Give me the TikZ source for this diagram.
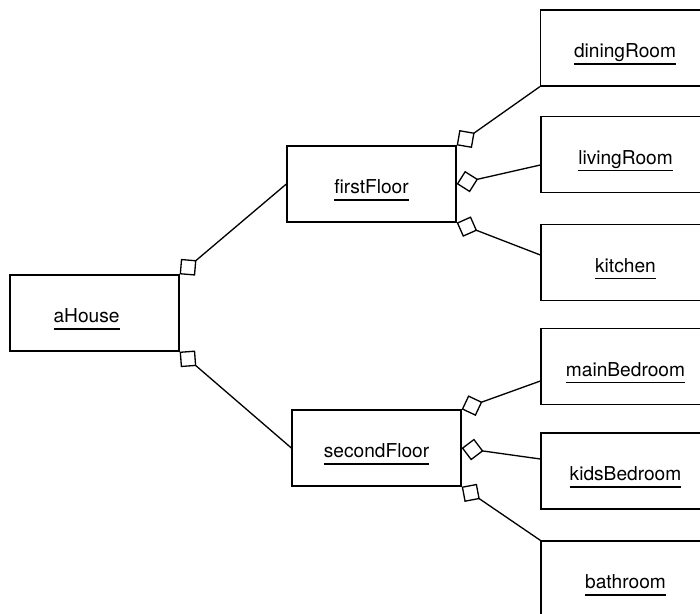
\documentclass[tikz,border=0pt]{standalone}
\usepackage{fontspec}
\setmainfont{TeX Gyre Heros}
\usepackage{tikz}
\usetikzlibrary{arrows.meta}
\newlength{\objwd}
\newcommand{\objname}[1]{\settowidth{\objwd}{#1}#1\llap{\rule[-4pt]{\objwd}{0.7pt}}}
\tikzset{
  obj/.style={draw, line width=0.75pt, rectangle, minimum width=3.38cm, minimum height=1.52cm,
    text height=15pt, text depth=4pt, font=\fontsize{10.9}{13}\selectfont},
  aggr/.style={line width=0.75pt, arrows={Diamond[open,length=0.44cm,width=0.44cm]-}}
}

\begin{document}
\begin{tikzpicture}[x=0.02cm,y=-0.02cm]
\clip (0,0) rectangle (700,613);
\node[obj] (aHouse) at (94.5,313) {\objname{aHouse}\kern9pt};
\node[obj] (firstFloor) at (371.5,184) {\objname{firstFloor}};
\node[obj] (secondFloor) at (376.5,448) {\objname{secondFloor}};
\node[obj] (diningRoom) at (625,48) {\objname{diningRoom}};
\node[obj] (livingRoom) at (625.5,154.5) {\objname{livingRoom}};
\node[obj] (kitchen) at (625.5,262.5) {\objname{kitchen}};
\node[obj] (mainBedroom) at (625.5,366.5) {\objname{mainBedroom}};
\node[obj] (kidsBedroom) at (625.5,471) {\objname{kidsBedroom}};
\node[obj] (bathroom) at (625.5,579) {\objname{bathroom}};

\draw[aggr] (aHouse.north east) -- (firstFloor.west);
\draw[aggr] (aHouse.south east) -- (secondFloor.west);
\draw[aggr] (firstFloor.north east) -- (diningRoom.south west);
\draw[aggr] (firstFloor.east) -- ([yshift=-0.21cm]livingRoom.west);
\draw[aggr] (firstFloor.south east) -- ([yshift=0.15cm]kitchen.west);
\draw[aggr] (secondFloor.north east) -- ([yshift=-0.29cm]mainBedroom.west);
\draw[aggr] (secondFloor.east) -- ([yshift=0.24cm]kidsBedroom.west);
\draw[aggr] (secondFloor.south east) -- (bathroom.north west);
\end{tikzpicture}
\end{document}
